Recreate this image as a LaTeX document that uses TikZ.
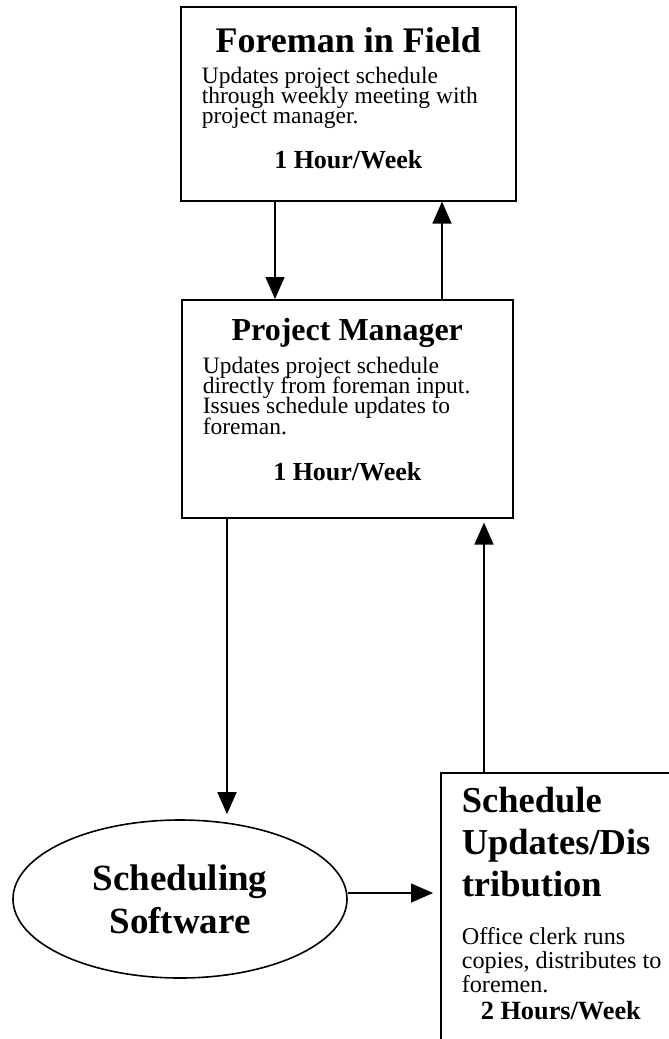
\documentclass[tikz,border=0pt]{standalone}
\usepackage{fontspec}
\setmainfont{Liberation Serif}
\usetikzlibrary{arrows.meta, shapes.geometric, positioning, calc}

% text blocks inside the boxes: size, baselineskip, (left indent), text
\newcommand{\midtext}[3]{{\centering\fontsize{#1}{#2}\selectfont #3\par}}
\newcommand{\lefttext}[4]{{\raggedright\leftskip=#3\fontsize{#1}{#2}\selectfont #4\par}}

\begin{document}
\begin{tikzpicture}[x=1bp, y=-1bp,
    box/.style={draw, line width=1.6bp, inner sep=0pt, anchor=north west},
    soft/.style={draw, ellipse, line width=1.6bp, inner sep=0pt, minimum width=334bp,
      minimum height=158bp, align=center, font=\fontsize{37bp}{43bp}\selectfont\bfseries},
    arr/.style={line width=1.6bp, -{Triangle[length=22bp, width=19bp]}}]
      \useasboundingbox (0,0) rectangle (669,1039);
      \fill[white] (0,0) rectangle (669,1039);
      \clip (0,0) rectangle (669,1039);

      \node[box] (foreman) at (180,6) {\parbox[t][194bp][t]{335bp}{\lineskiplimit=-100bp
        \midtext{36bp}{36bp}{\bfseries\rule{0pt}{46bp}Foreman in Field}
        \vspace{11bp}
        \lefttext{23.5bp}{20bp}{21bp}{Updates project schedule\\through weekly meeting with\\project manager.}
        \vspace{25bp}
        \midtext{26bp}{20bp}{\bfseries 1 Hour/Week}}};

      \node[box] (pm) at (181,299) {\parbox[t][218bp][t]{331bp}{\lineskiplimit=-100bp
        \midtext{32bp}{32bp}{\bfseries\rule{0pt}{41bp}Project Manager}
        \vspace{12bp}
        \lefttext{23.5bp}{20.3bp}{21bp}{Updates project schedule\\directly from foreman input.\\Issues schedule updates to\\foreman.}
        \vspace{26bp}
        \midtext{26bp}{20bp}{\bfseries 1 Hour/Week}}};

      \node[soft] (sw) at (180,899) {Scheduling\\Software};

      \node[box] (sched) at (440,772) {\parbox[t][300bp][t]{300bp}{\lineskiplimit=-100bp
        \lefttext{36.5bp}{42bp}{21bp}{\bfseries\rule{0pt}{40bp}Schedule\\Updates/Dis\\tribution}
        \vspace{24bp}
        \lefttext{24.2bp}{24bp}{21bp}{Office clerk runs\\copies, distributes to\\foremen.}
        \vspace{4bp}
        \lefttext{26.3bp}{23bp}{40bp}{\bfseries 2 Hours/Week}}};

      % connectors
      \draw[arr] ([xshift=95bp]foreman.south west) -- ([xshift=95bp]foreman.south west |- pm.north);
      \draw[arr] ([xshift=261bp]pm.north west) -- ([xshift=261bp]pm.north west |- foreman.south);
      \draw[arr, shorten >=5bp] ([xshift=46bp]pm.south west) -- ([xshift=46bp]pm.south west |- sw.north);
      \draw[arr, shorten >=7bp] ([yshift=6bp]sw.east) -- ([yshift=6bp]sw.east -| sched.west);
      \draw[arr, shorten >=4bp] ([xshift=44bp]sched.north west) -- ([xshift=44bp]sched.north west |- pm.south);
    \end{tikzpicture}
\end{document}
